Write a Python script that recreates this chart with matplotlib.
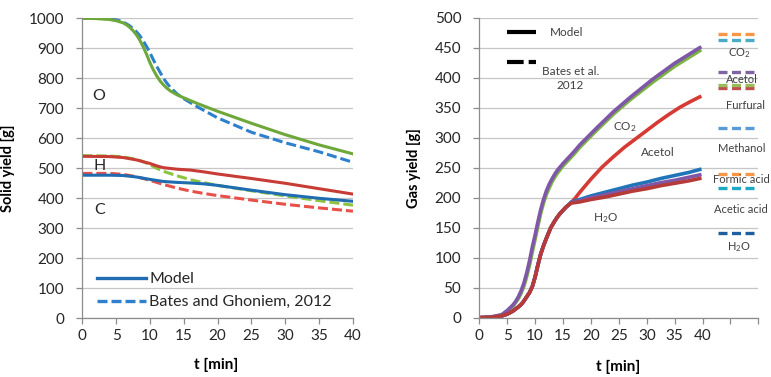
import matplotlib
matplotlib.use("Agg")
import matplotlib.pyplot as plt
from matplotlib.lines import Line2D

plt.rcParams['font.family'] = ['Lato', 'DejaVu Sans']
plt.rcParams['mathtext.fontset'] = 'custom'
plt.rcParams['mathtext.rm'] = 'Lato'
plt.rcParams['mathtext.it'] = 'Lato:italic'

# ---------------- Left panel data (solid yield) ----------------
t_O_model = [0, 2, 4, 5, 6, 6.5, 7, 7.5, 8, 8.5, 9, 9.5, 10, 10.5, 11, 11.5, 12, 12.5, 13, 14, 15, 17, 20, 25, 30, 35, 40]
O_model = [1000, 999, 996, 992, 985, 979, 970, 959, 945, 927, 905, 880, 852, 828, 808, 791, 778, 767, 758, 745, 735, 716, 690, 650, 612, 578, 548]
t_O_bates = [0, 3, 5, 5.5, 6, 6.5, 7, 7.5, 8, 8.5, 9, 9.5, 10, 10.5, 11, 11.5, 12, 12.5, 13, 14, 15, 17, 20, 25, 30, 35, 40]
O_bates = [1000, 1000, 995, 992, 988, 982, 975, 966, 955, 942, 925, 906, 885, 862, 840, 820, 800, 784, 770, 748, 732, 705, 668, 620, 585, 555, 520]

t_H_model = [0, 4, 6, 8, 10, 11, 12, 14, 16, 18, 20, 25, 30, 35, 40]
H_model = [540, 539, 536, 528, 516, 508, 502, 497, 494, 488, 481, 466, 450, 432, 414]
t_H_bates = [0, 4, 6, 8, 9, 10, 11, 12, 14, 16, 18, 20, 25, 30, 35, 40]
H_bates = [542, 541, 538, 530, 522, 512, 500, 490, 475, 462, 452, 443, 425, 408, 392, 377]

t_C_model = [0, 4, 6, 8, 10, 12, 14, 16, 18, 20, 25, 30, 35, 40]
C_model = [477, 477, 476, 471, 463, 456, 453, 451, 448, 443, 427, 412, 400, 390]
t_C_bates = [0, 4, 6, 8, 10, 12, 14, 16, 18, 20, 25, 30, 35, 40]
C_bates = [483, 483, 480, 472, 460, 446, 434, 424, 416, 409, 394, 380, 368, 357]

elem_labels = ['O', 'H', 'C']
elem_label_y = [742, 509, 361]
left_legend_labels = ['Model', 'Bates and Ghoniem, 2012']

# ---------------- Right panel data (gas yield) ----------------
t_up = [0, 2, 4, 5, 6, 6.5, 7, 7.5, 8, 8.5, 9, 9.5, 10, 10.5, 11, 11.5, 12, 12.5, 13, 13.5, 14, 15, 16, 17, 18, 19.5, 21, 24, 27, 31, 35, 39.5]
co2_purple = [0, 1, 5, 12, 21, 27, 35, 45, 58, 75, 95, 118, 138, 160, 180, 197, 211, 222, 231, 239, 246, 257, 267, 277, 288, 302, 316, 343, 367, 397, 424, 450]
co2_green = [0, 1, 4, 11, 19, 25, 32, 41, 53, 69, 88, 110, 131, 153, 174, 191, 205, 216, 226, 234, 241, 253, 263, 273, 284, 298, 312, 339, 363, 392, 419, 445]

t_rise = [0, 2, 4, 5, 6, 7, 7.5, 8, 8.5, 9, 9.5, 10, 10.5, 11, 11.5, 12, 12.8, 13.5, 14, 14.5, 15, 15.5, 16]
rise = [0, 0.5, 3, 6, 11, 18, 22, 28, 35, 42, 52, 68, 88, 106, 120, 132, 150, 161, 168, 174, 179, 184, 188]

t_tail = [16.5, 18, 20, 22.5, 25, 27.5, 30, 32.5, 35, 37.5, 39.5]
h2o_blue = [193, 197, 203, 209, 215, 221, 226, 232, 237, 242, 247]
h2o_purple = [192, 195, 200, 205, 210, 215, 220, 225, 229, 234, 238]
h2o_darkred = [191, 193, 197, 201, 206, 211, 215, 220, 224, 228, 232]

t_acetol_tail = [16.5, 17.25, 18, 20, 22, 24, 26, 28, 30, 32, 34, 36, 38, 39.5]
acetol_tail = [192, 200, 209, 231, 251, 268, 284, 298, 312, 326, 339, 351, 361, 368]

curve_labels = ['CO$_2$', 'Acetol', 'H$_2$O']
curve_label_t = [26.0, 31.9, 22.6]
curve_label_y = [318, 275, 166]

species = ['CO$_2$', 'Acetol', 'Furfural', 'Methanol', 'Formic acid', 'Acetic acid', 'H$_2$O']
species_label_t = [46.5, 47.0, 47.7, 47.0, 46.9, 46.9, 46.5]
species_label_y = [441, 397, 353, 282, 230, 180, 117]
key_colors = ['#F79646', '#4BACC6', '#8064A2', '#C0504D', '#9BBB59', '#5B9BD5', '#F79646', '#1CA9C3', '#1F5F9E']
key_y = [473, 462, 410, 383, 387, 316, 240, 216, 141]

# ---------------- Styling ----------------
GRID = '#C6C6C6'
AXC = '#8C8C8C'
TXT = '#262626'
TXT2 = '#404040'

fig = plt.figure(figsize=(7.71, 3.77), dpi=100)
axL = fig.add_axes([0.1067, 0.1557, 0.3511, 0.7958])
axR = fig.add_axes([0.6217, 0.1573, 0.3619, 0.7958])

for ax in (axL, axR):
    ax.set_facecolor('white')
    for s in ('top', 'right'):
        ax.spines[s].set_visible(False)
    for s in ('left', 'bottom'):
        ax.spines[s].set_color(AXC)
        ax.spines[s].set_linewidth(0.9)
    ax.yaxis.grid(True, color=GRID, linewidth=0.9)
    ax.set_axisbelow(True)
    ax.tick_params(axis='both', colors=AXC, labelcolor=TXT, labelsize=11, length=4, width=0.9)
    ax.tick_params(axis='y', pad=9)
    ax.tick_params(axis='x', pad=4)

# Left panel
lw = 2.2
dash = (0, (3.3, 1.3))
axL.plot(t_O_bates, O_bates, color='#2E80CC', lw=lw, linestyle=dash, dash_capstyle='butt')
axL.plot(t_O_model, O_model, color='#6FA83A', lw=lw)
axL.plot(t_H_bates, H_bates, color='#8CC43F', lw=lw, linestyle=dash, dash_capstyle='butt')
axL.plot(t_C_bates, C_bates, color='#E8504A', lw=lw, linestyle=dash, dash_capstyle='butt')
axL.plot(t_H_model, H_model, color='#C83C36', lw=lw)
axL.plot(t_C_model, C_model, color='#1F6DB0', lw=lw)
axL.set_xlim(0, 40)
axL.set_ylim(0, 1000)
axL.set_xticks(range(0, 41, 5))
axL.set_yticks(range(0, 1001, 100))
for lab, yv in zip(elem_labels, elem_label_y):
    axL.text(2.5, yv, lab, ha='center', va='center', fontsize=11.5, color=TXT)

handles = [Line2D([], [], color='#1F6DB0', lw=2.4),
           Line2D([], [], color='#2E80CC', lw=2.4, linestyle=(0, (3.0, 1.2)), dash_capstyle='butt')]
axL.legend(handles, left_legend_labels, loc='lower left', bbox_to_anchor=(0.053, 0.03),
           frameon=False, fontsize=11.5, handlelength=3.1, handletextpad=0.2,
           borderpad=0, borderaxespad=0, labelspacing=0.55, labelcolor=TXT)
axL.set_ylabel('Solid yield [g]', fontsize=10.5, fontweight='bold', color='black')
axL.yaxis.set_label_coords(-0.249, 0.5)
axL.set_xlabel('t [min]', fontsize=11, fontweight='bold', color='black', va='center')
axL.xaxis.set_label_coords(0.496, -0.156)

# Right panel
lw2 = 2.6
axR.plot(t_up, co2_green, color='#7CB342', lw=lw2)
axR.plot(t_up, co2_purple, color='#7E57A8', lw=lw2)
axR.plot(t_rise + t_acetol_tail, rise + acetol_tail, color='#D63A34', lw=lw2)
axR.plot(t_rise + t_tail, rise + h2o_blue, color='#1F75B8', lw=lw2)
axR.plot(t_rise + t_tail, rise + h2o_purple, color='#7E57A8', lw=lw2)
axR.plot(t_rise + t_tail, rise + h2o_darkred, color='#B53A38', lw=lw2)
axR.set_xlim(0, 50)
axR.set_ylim(0, 500)
axR.set_xticks(range(0, 51, 5))
axR.set_xticklabels([str(v) if v <= 40 else '' for v in range(0, 51, 5)])
axR.set_yticks(range(0, 501, 50))
axR.set_ylabel('Gas yield [g]', fontsize=10.5, fontweight='bold', color='black')
axR.yaxis.set_label_coords(-0.209, 0.5)
axR.set_xlabel('t [min]', fontsize=11, fontweight='bold', color='black', va='center')
axR.xaxis.set_label_coords(0.498, -0.163)

for lab, tx, ty in zip(curve_labels, curve_label_t, curve_label_y):
    axR.text(tx, ty, lab, ha='center', va='center', fontsize=8.5, color=TXT2)

# top-left key
axR.plot([0.098, 0.204], [0.951, 0.951], transform=axR.transAxes, color='black', lw=3, solid_capstyle='butt')
axR.text(0.252, 0.951, 'Model', transform=axR.transAxes, ha='left', va='center', fontsize=8.5, color=TXT2)
axR.plot([0.098, 0.204], [0.851, 0.851], transform=axR.transAxes, color='black', lw=3,
         linestyle=(0, (4, 1.2)), dash_capstyle='butt')
axR.text(0.327, 0.798, 'Bates et al.\n2012', transform=axR.transAxes, ha='center', va='center',
         multialignment='center', fontsize=8.5, color=TXT2, linespacing=1.35)

# species key (dashed pairs)
for c, yv in zip(key_colors, key_y):
    axR.plot([42.7 / 50, 49.2 / 50], [yv / 500, yv / 500], transform=axR.transAxes, color=c, lw=2.4,
             linestyle=(0, (2.7, 1.35)), dash_capstyle='butt', clip_on=False)
for lab, tx, ty in zip(species, species_label_t, species_label_y):
    axR.text(tx, ty, lab, ha='center', va='center', fontsize=8, color=TXT2, clip_on=False)

fig.savefig('out.png', dpi=100, facecolor='white')
